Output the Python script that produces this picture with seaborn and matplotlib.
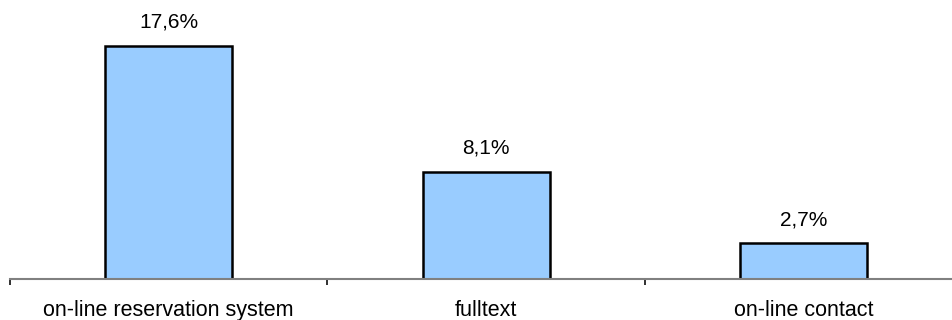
import matplotlib
matplotlib.use("Agg")
import matplotlib.pyplot as plt
import seaborn as sns
import pandas as pd
from matplotlib.ticker import FixedLocator

categories = ["on-line reservation system", "fulltext", "on-line contact"]
values = [17.6, 8.1, 2.7]
value_labels = ["17,6%", "8,1%", "2,7%"]

sns.set_theme(style="white")
plt.rcParams["font.family"] = ["Liberation Sans", "DejaVu Sans"]

df = pd.DataFrame({"category": categories, "share": values})

fig = plt.figure(figsize=(9.53, 3.2), dpi=100)
ax = fig.add_axes([10 / 953, 41 / 320, 952.5 / 953, 264.8 / 320])

sns.barplot(data=df, x="category", y="share", ax=ax, width=0.4,
            color="#99CCFF", saturation=1, edgecolor="black", linewidth=1.8)

ax.set_xlim(-0.5, len(categories) - 0.5)
ax.set_ylim(0, 20)

for patch, lbl in zip(ax.patches, value_labels):
    x = patch.get_x() + patch.get_width() / 2
    ax.annotate(lbl, (x, patch.get_height()), xytext=(0, 13),
                textcoords="offset points", ha="center", va="baseline",
                fontsize=15, color="black")

# category boundaries carry the tick marks, centres carry the labels
ax.xaxis.set_major_locator(FixedLocator([i - 0.5 for i in range(len(categories) + 1)]))
ax.xaxis.set_major_formatter(plt.NullFormatter())
ax.xaxis.set_minor_locator(FixedLocator(list(range(len(categories)))))
ax.xaxis.set_minor_formatter(plt.FixedFormatter(categories))
ax.tick_params(axis="x", which="major", bottom=True, length=4.5, width=1.3, color="#202020")
ax.tick_params(axis="x", which="minor", bottom=True, length=0, pad=15, labelsize=15.5, labelcolor="black")
ax.set_yticks([])
ax.set_xlabel("")
ax.set_ylabel("")

for side in ["left", "top", "right"]:
    ax.spines[side].set_visible(False)
ax.spines["bottom"].set_color("#808080")
ax.spines["bottom"].set_linewidth(1.5)

fig.savefig("out.png", dpi=100, facecolor="white")
